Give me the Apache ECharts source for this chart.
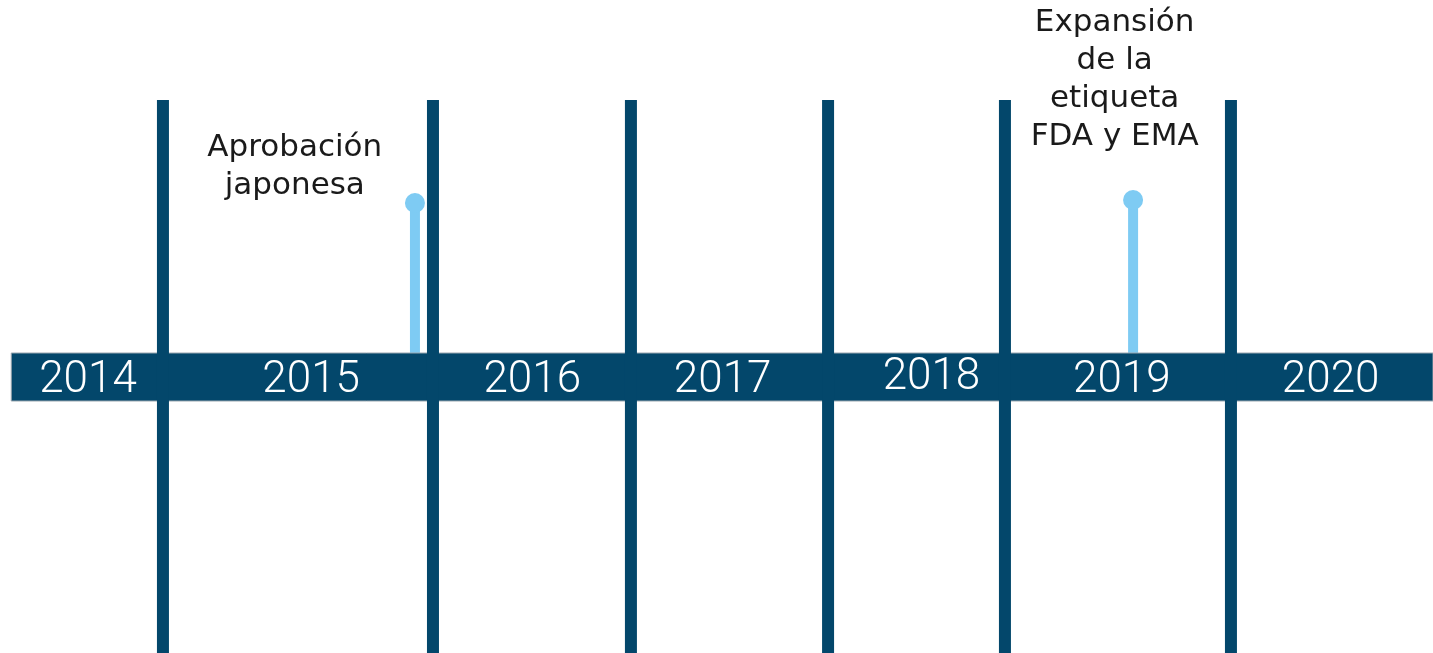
<!DOCTYPE html>
<html><head><meta charset="utf-8">
<script src="https://cdn.jsdelivr.net/npm/echarts@6/dist/echarts.min.js"></script>
<style>html,body{margin:0;padding:0;background:#fff}#c{width:1433px;height:653px}</style>
</head><body><div id="c"></div>
<script>
// Timeline scale: x in (fractional) years, y in offset from the band centre
var yearLabels = ['2014','2015','2016','2017','2018','2019','2020'];
var yearLabelPos = [2013.93, 2015.02, 2016.10, 2017.03, 2018.05, 2018.98, 2020.00];
var yearLabelY = [-4, -4, -4, -4, -1, -4, -4];
var dividerPos = [2014.296, 2015.615, 2016.582, 2017.545, 2018.409, 2019.513];
var dividerTop = 277;
var eventPos = [2015.527, 2019.035];
var eventHeight = [177, 180];
var eventTexts = ['Aprobación\njaponesa', 'Expansión\nde la\netiqueta\nFDA y EMA'];
var eventTextPos = [2014.94, 2018.945];
var eventTextY = [210, 297];
var bandStart = 2013.555, bandHalf = 24;

var chart = echarts.init(document.getElementById('c'));
chart.setOption({
  animation:false,
  grid:{left:0,right:0,top:0,bottom:0},
  xAxis:{type:'value',min:2013.5,max:2020.5,show:false},
  yAxis:{type:'value',min:-276,max:377,show:false},
  series:[
    {type:'custom', z:1, renderItem:function(p,api){
       var s = api.coord([api.value(0), api.value(1)]);
       var e = api.coord([api.value(0), api.value(2)]);
       return {type:'group',children:[
         {type:'rect',shape:{x:s[0]-5,y:e[1],width:10,height:s[1]-e[1]},style:{fill:'#7ecbf3'}},
         {type:'circle',shape:{cx:e[0],cy:e[1]+3,r:10},style:{fill:'#7ecbf3'}}
       ]};
     }, data: eventPos.map(function(x,i){return [x, bandHalf, eventHeight[i]];})},
    {type:'custom', z:2, renderItem:function(p,api){
       var a = api.coord([bandStart, bandHalf]);
       var b = api.coord([2020.5, -bandHalf]);
       return {type:'rect',shape:{x:a[0],y:a[1],width:b[0]-a[0],height:b[1]-a[1]},style:{fill:'#03476b',stroke:'#9aa7b0',lineWidth:1}};
     }, data:[[0,0]]},
    {type:'custom', z:3, renderItem:function(p,api){
       var t = api.coord([api.value(0), api.value(1)]);
       var b = api.coord([api.value(0), -276]);
       return {type:'rect',shape:{x:t[0]-6,y:t[1],width:12,height:b[1]-t[1]},style:{fill:'#03476b'}};
     }, data: dividerPos.map(function(x){return [x, dividerTop];})},
    {type:'scatter', z:4, symbolSize:0, silent:true, itemStyle:{opacity:1},
     data: yearLabels.map(function(l,i){return {value:[yearLabelPos[i], yearLabelY[i]], name:l};}),
     label:{show:true,position:'inside',formatter:'{b}',color:'#ffffff',fontFamily:'Roboto',fontWeight:300,fontSize:44}},
    {type:'scatter', z:4, symbolSize:0, silent:true, itemStyle:{opacity:1},
     data: eventTexts.map(function(l,i){return {value:[eventTextPos[i], eventTextY[i]], name:l};}),
     label:{show:true,position:'inside',formatter:'{b}',color:'#1a1a1a',fontFamily:'DejaVu Sans',fontWeight:'normal',fontSize:31,lineHeight:38,align:'center',verticalAlign:'middle'}}
  ]
});
</script></body></html>
